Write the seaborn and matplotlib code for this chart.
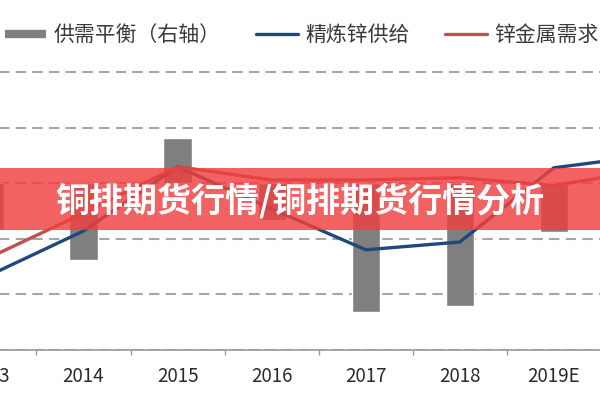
import numpy as np
import pandas as pd
import matplotlib
matplotlib.use('Agg')
import matplotlib.pyplot as plt
import seaborn as sns
from matplotlib.lines import Line2D
from matplotlib.patches import Rectangle
from matplotlib.ticker import FixedLocator

# ---- data ----
years = ['2013', '2014', '2015', '2016', '2017', '2018', '2019E', '2020E']
supply = [12670, 13070, 13650, 13270, 12900, 12970, 13640, 13750]   # 精炼锌供给 (left axis)
demand = [12830, 13230, 13650, 13530, 13530, 13550, 13480, 13620]   # 锌金属需求 (left axis)
balance_years = ['2013', '2014', '2015', '2016', '2017', '2018', '2019E']
balance = [-170, -278, 162, -134, -466, -444, -177]                 # 供需平衡 (right axis)
legend_labels = ['供需平衡（右轴）', '精炼锌供给', '锌金属需求']
banner_text = '铜排期货行情/铜排期货行情分析'

C_BAR = '#7F7F7F'
C_BLUE = '#1F497D'
C_RED = '#C0504D'

sns.set_theme(style='white')
plt.rcParams['font.family'] = ['Noto Sans CJK SC', 'DejaVu Sans']

fig = plt.figure(figsize=(6, 4), dpi=100)
ax = fig.add_axes([-0.096, 0.12625, 1.2543, 0.71875])

bar_df = pd.DataFrame({'year': balance_years, 'balance': balance})
sns.barplot(data=bar_df, x='year', y='balance', color=C_BAR, saturation=1,
            width=0.3, ax=ax, zorder=2)

ax.set_ylim(-600, 437.9)
ax.yaxis.set_major_locator(FixedLocator([-600, -400, -200, 0, 200, 400]))
ax.yaxis.grid(True, color='#A6A6A6', linestyle=(0, (5, 3)), linewidth=1.5)
ax.xaxis.grid(False)
ax.set_axisbelow(True)
ax.set_xlim(-0.5, len(years) - 0.5)
ax.set_xticks(range(len(balance_years)))
ax.set_xticklabels(balance_years)
ax.xaxis.set_minor_locator(FixedLocator(np.arange(len(years) - 1) + 0.5))
ax.tick_params(axis='x', which='major', length=0, pad=12, labelsize=13.5,
               labelcolor='#2a2a2a')
ax.tick_params(axis='x', which='minor', length=3.8, width=1.0, color='#999999',
               direction='out', bottom=True)
ax.tick_params(axis='y', left=False, labelleft=False)
ax.set_xlabel('')
ax.set_ylabel('')
for s in ['top', 'left', 'right']:
    ax.spines[s].set_visible(False)
ax.spines['bottom'].set_color('#999999')
ax.spines['bottom'].set_linewidth(1.2)

ax2 = ax.twinx()
x_idx = np.arange(len(years))
sns.lineplot(x=x_idx, y=supply, ax=ax2, color=C_BLUE, linewidth=2.4, sort=False)
sns.lineplot(x=x_idx, y=demand, ax=ax2, color=C_RED, linewidth=2.4, sort=False)
ax2.set_ylim(12000, 14595)
ax2.set_xlim(-0.5, len(years) - 0.5)
ax2.tick_params(axis='y', right=False, labelright=False)
ax2.set_xlabel('')
ax2.set_ylabel('')
ax2.grid(False)
for s in ax2.spines.values():
    s.set_visible(False)

handles = [Line2D([0], [0], color=C_BAR, lw=6, solid_capstyle='butt'),
           Line2D([0], [0], color=C_BLUE, lw=2.4),
           Line2D([0], [0], color=C_RED, lw=2.4)]
leg = fig.legend(handles, legend_labels, loc='center left',
                 bbox_to_anchor=(0.008, 0.9125), ncol=3, frameon=False,
                 fontsize=15, handlelength=2.0, handletextpad=0.35,
                 columnspacing=1.7, borderaxespad=0, borderpad=0)
for t in leg.get_texts():
    t.set_color('#3a3a3a')

# overlay banner
fig.patches.append(Rectangle((0, 0.425), 1, 0.155, transform=fig.transFigure,
                             facecolor=(0.94, 0.25, 0.25), alpha=0.82,
                             edgecolor='none', zorder=5))
fig.text(0.5, 0.4975, banner_text, ha='center', va='center', color='white',
         fontsize=24.5, fontweight='bold', zorder=6)

fig.savefig('out.png', dpi=100)
